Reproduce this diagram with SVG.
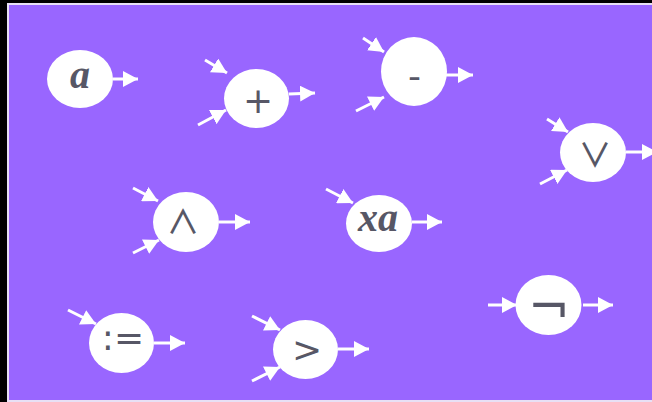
<svg xmlns="http://www.w3.org/2000/svg" width="652" height="402" viewBox="0 0 652 402">
<defs>
<marker id="ah" markerUnits="userSpaceOnUse" markerWidth="16" markerHeight="16" viewBox="0 0 16 16" refX="15" refY="8" orient="auto">
<path d="M0,0 L15,8 L0,16 Z" fill="#ffffff"/>
</marker>
<style>
.n{fill:#ffffff}
.c line{stroke:#ffffff;stroke-width:3;marker-end:url(#ah)}
.s{font-family:"DejaVu Sans",sans-serif;font-size:36px;fill:#575766;text-anchor:middle}
.b{font-size:50px}
.w{font-family:"Noto Sans CJK JP",sans-serif;font-size:33px;font-weight:500}
.v{font-family:"Liberation Serif",serif;font-style:italic;font-weight:bold;font-size:40px;fill:#575766;text-anchor:middle}
</style>
</defs>
<rect x="0" y="0" width="652" height="402" fill="#000000"/>
<rect x="7" y="3" width="645" height="399" fill="#e8e0f5"/>
<rect x="9" y="5" width="643" height="395" fill="#9966ff"/>
<g class="c">
<line x1="113" y1="79" x2="138" y2="79"/>
<line x1="289" y1="94" x2="315" y2="93"/>
<line x1="205" y1="60" x2="227" y2="73"/>
<line x1="198" y1="125" x2="226" y2="110"/>
<line x1="446" y1="75" x2="473" y2="75"/>
<line x1="363" y1="38" x2="384" y2="52"/>
<line x1="356" y1="111" x2="384" y2="97"/>
<line x1="626" y1="152" x2="657" y2="152"/>
<line x1="547" y1="119" x2="568" y2="132"/>
<line x1="540" y1="184" x2="567" y2="170"/>
<line x1="219" y1="222" x2="250" y2="222"/>
<line x1="133" y1="188" x2="158" y2="201"/>
<line x1="133" y1="253" x2="159" y2="240"/>
<line x1="412" y1="222" x2="442" y2="222"/>
<line x1="326" y1="189" x2="353" y2="203"/>
<line x1="154" y1="343" x2="185" y2="343"/>
<line x1="68" y1="310" x2="96" y2="324"/>
<line x1="338" y1="349" x2="369" y2="349"/>
<line x1="252" y1="316" x2="280" y2="330"/>
<line x1="252" y1="381" x2="280" y2="367"/>
<line x1="583" y1="305" x2="613" y2="305"/>
<line x1="488" y1="305" x2="517" y2="305"/>
</g>
<g id="node-a"><ellipse class="n" cx="80" cy="79" rx="33" ry="29"/><text class="v" x="80" y="88">a</text></g>
<g id="node-plus"><ellipse class="n" cx="256.5" cy="98.5" rx="32.5" ry="29.5"/><text class="s" x="258" y="113">+</text></g>
<g id="node-minus"><ellipse class="n" cx="414" cy="71.5" rx="33" ry="34.5"/><text class="s" x="414.5" y="88">-</text></g>
<g id="node-or"><ellipse class="n" cx="593" cy="152.5" rx="33" ry="29.5"/><text class="s w" x="595" y="166.5">∨</text></g>
<g id="node-and"><ellipse class="n" cx="186" cy="222" rx="33" ry="30"/><text class="s w" x="183" y="233.5">∧</text></g>
<g id="node-xa"><ellipse class="n" cx="379" cy="223.5" rx="33" ry="28.5"/><text class="v" x="378" y="231">xa</text></g>
<g id="node-assign"><ellipse class="n" cx="121.5" cy="343" rx="32.5" ry="30"/><text class="s" x="123" y="350">:=</text></g>
<g id="node-gt"><ellipse class="n" cx="305.5" cy="349.5" rx="32.5" ry="29.5"/><text class="s" x="307" y="362">&gt;</text></g>
<g id="node-not"><ellipse class="n" cx="548.5" cy="305" rx="33" ry="30"/><text class="s b" x="549" y="324">¬</text></g>
</svg>
